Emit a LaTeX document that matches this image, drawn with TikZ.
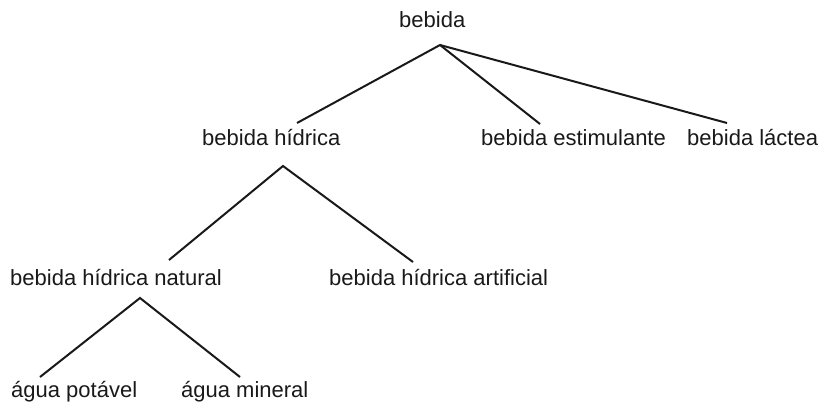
\documentclass[tikz,border=0pt]{standalone}
\usepackage{fontspec}
\setmainfont{Liberation Sans}
\tikzset{
  term/.style={anchor=base west, inner sep=0pt, text=black!90,
               font=\fontsize{22}{26}\selectfont},
  branch/.style={line width=2pt, black!90},
}

\begin{document}
\begin{tikzpicture}[x=1pt, y=-1pt]
  \useasboundingbox (0,0) rectangle (832,405);

  % ── terms, one row per level ───────────────────────────
  \node[term] (bebida)      at (399,27)  {bebida};
  \node[term] (hidrica)     at (202,145) {bebida hídrica};
  \node[term] (estimulante) at (481,145) {bebida estimulante};
  \node[term] (lactea)      at (687,145) {bebida láctea};
  \node[term] (natural)     at (10,285)  {bebida hídrica natural};
  \node[term] (artificial)  at (329,285) {bebida hídrica artificial};
  \node[term] (potavel)     at (11,397)  {água potável};
  \node[term] (mineral)     at (181,397) {água mineral};

  % ── junction points and branch ends ────────────────────
  \coordinate (jBebida)  at (440,45);
  \coordinate (jHidrica) at (283,166);
  \coordinate (jNatural) at (140,298);
  \coordinate (eHidrica)     at (297,123);
  \coordinate (eEstimulante) at (540,124);
  \coordinate (eLactea)      at (727,123);
  \coordinate (eNatural)     at (169,260);
  \coordinate (eArtificial)  at (413,262);
  \coordinate (ePotavel)     at (40,377);
  \coordinate (eMineral)     at (240,377);

  % ── branches ──────────────────────────────────────────
  \draw[branch] (eHidrica) -- (jBebida) -- (eEstimulante);
  \draw[branch] (jBebida) -- (eLactea);
  \draw[branch] (eNatural) -- (jHidrica) -- (eArtificial);
  \draw[branch] (ePotavel) -- (jNatural) -- (eMineral);
\end{tikzpicture}
\end{document}
